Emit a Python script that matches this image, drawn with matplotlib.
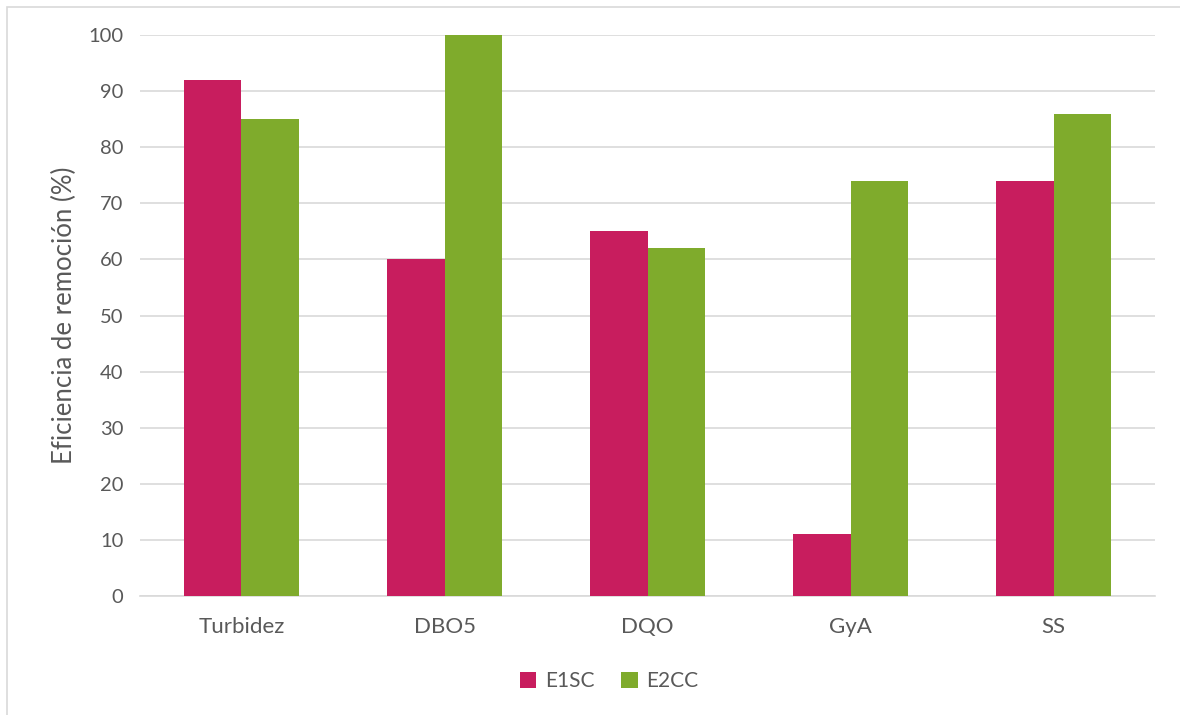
import matplotlib.pyplot as plt
import numpy as np
from matplotlib.patches import Rectangle

# Eficiencia de remoción por parámetro
categorias = ['Turbidez', 'DBO5', 'DQO', 'GyA', 'SS']
e1sc = [92, 60, 65, 11, 74]
e2cc = [85, 100, 62, 74, 86]

plt.rcParams['font.family'] = ['Lato', 'DejaVu Sans']
gris = '#595959'

fig = plt.figure(figsize=(11.8, 7.15), dpi=100)
fig.patches.append(Rectangle((0.006, -0.01), 1.2, 1.0, transform=fig.transFigure,
                             fill=False, edgecolor='#d9d9d9', linewidth=1.2))
ax = fig.add_axes([0.1186, 0.1664, 0.8604, 0.7846])

x = np.arange(len(categorias))
w = 0.284
ax.bar(x - w / 2, e1sc, w, color='#C81D5E', label='E1SC', zorder=3)
ax.bar(x + w / 2, e2cc, w, color='#7FAB2C', label='E2CC', zorder=3)

ax.set_xlim(-0.5, len(categorias) - 0.5)
ax.set_ylim(0, 100)
ax.set_yticks(range(0, 101, 10))
ax.set_xticks(x)
ax.set_xticklabels(categorias)
ax.grid(axis='y', color='#d9d9d9', linewidth=1.2, zorder=0)
for s in ['top', 'right', 'left']:
    ax.spines[s].set_visible(False)
ax.spines['bottom'].set_color('#d9d9d9')
ax.spines['bottom'].set_linewidth(1.2)
ax.tick_params(length=0, labelsize=14.5, colors=gris, pad=12)
ax.tick_params(axis='x', pad=15, labelsize=16)
ax.set_ylabel('Eficiencia de remoción (%)', fontsize=18.5, color=gris, labelpad=8)

ax.legend(loc='upper center', bbox_to_anchor=(0.462, -0.1), ncol=2, frameon=False,
          fontsize=15, labelcolor=gris, handlelength=0.8, handleheight=0.8,
          handletextpad=0.4, columnspacing=1.3)

plt.savefig('out.png', dpi=100)
